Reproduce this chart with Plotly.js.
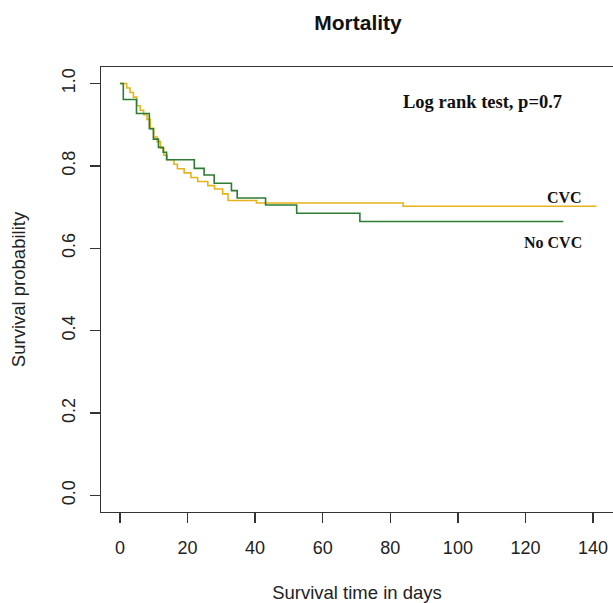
<!DOCTYPE html>
<html>
<head>
<meta charset="utf-8">
<script src="https://cdn.plot.ly/plotly-3.0.1.min.js"></script>
<style>html,body{margin:0;padding:0;background:#fff;}#chart{width:613px;height:603px;}</style>
</head>
<body>
<div id="chart"></div>
<script>
// Kaplan-Meier step data
const cvcTime = [0, 2, 3, 4, 5, 6, 7, 8, 9, 10, 11, 12, 13, 14, 16, 17, 19, 21, 23, 26, 28, 30.4, 32, 40.4, 83.8, 141];
const cvcSurv = [1.0, 0.989, 0.978, 0.967, 0.946, 0.935, 0.924, 0.913, 0.891, 0.870, 0.859, 0.843, 0.826, 0.815, 0.804, 0.793, 0.783, 0.772, 0.762, 0.752, 0.744, 0.732, 0.716, 0.710, 0.702, 0.702];
const noCvcTime = [0, 1, 4.9, 8.7, 9.9, 11.4, 12.8, 13.8, 22, 24.9, 27.9, 33, 34.7, 43.1, 52.3, 71, 131.2];
const noCvcSurv = [1.0, 0.961, 0.927, 0.890, 0.865, 0.845, 0.833, 0.815, 0.794, 0.778, 0.758, 0.740, 0.722, 0.705, 0.685, 0.665, 0.665];
const xTicks = [0, 20, 40, 60, 80, 100, 120, 140];
const yTicks = [0.0, 0.2, 0.4, 0.6, 0.8, 1.0];
const yTickText = ["0.0", "0.2", "0.4", "0.6", "0.8", "1.0"];
const groupLabels = ["CVC", "No CVC"];
const testLabel = "Log rank test, p=0.7";

const tickFont = {family: "Liberation Sans, Arial, sans-serif", size: 18, color: "#222"};
const titleFont = {family: "Liberation Sans, Arial, sans-serif", size: 18.5, color: "#222"};
const traces = [
  {x: cvcTime, y: cvcSurv, type: "scatter", mode: "lines", line: {shape: "hv", color: "#E8B31A", width: 1.6}, name: groupLabels[0]},
  {x: noCvcTime, y: noCvcSurv, type: "scatter", mode: "lines", line: {shape: "hv", color: "#2E7B34", width: 1.6}, name: groupLabels[1]}
];
const layout = {
  width: 613, height: 603,
  margin: {l: 101, r: 0, t: 67, b: 91},
  paper_bgcolor: "#fff", plot_bgcolor: "#fff",
  showlegend: false,
  title: {text: "Mortality", font: {family: "Liberation Sans, Arial, sans-serif", size: 21, color: "#111", weight: "bold"}, x: 0.5840, xref: "container", y: 0.963, yref: "container", xanchor: "center", yanchor: "middle"},
  xaxis: {
    range: [-5.6, 145.9], tickvals: xTicks, ticktext: xTicks.map(String),
    showgrid: false, zeroline: false, showline: true, mirror: true, linecolor: "#333", linewidth: 1.3,
    ticks: "outside", ticklen: 10, tickcolor: "#333", tickwidth: 1.3, tickfont: tickFont,
    ticklabelstandoff: 9,
    title: {text: "Survival time in days", font: titleFont, standoff: 30}
  },
  yaxis: {
    range: [-0.04, 1.04], tickvals: yTicks, ticktext: yTickText, tickangle: -90,
    showgrid: false, zeroline: false, showline: true, mirror: false, linecolor: "#333", linewidth: 1.3,
    ticks: "outside", ticklen: 10, tickcolor: "#333", tickwidth: 1.3, tickfont: tickFont,
    ticklabelstandoff: 8,
    title: {text: "Survival probability", font: titleFont, standoff: 28}
  },
  annotations: [
    {x: 107.4, y: 0.956, xref: "x", yref: "y", text: testLabel, showarrow: false, xanchor: "center", yanchor: "middle", font: {family: "Liberation Serif, Times New Roman, serif", size: 18.5, color: "#111", weight: "bold"}},
    {x: 137.3, y: 0.723, xref: "x", yref: "y", text: groupLabels[0], showarrow: false, xanchor: "right", yanchor: "middle", font: {family: "Liberation Serif, Times New Roman, serif", size: 16, color: "#111", weight: "bold"}},
    {x: 137.3, y: 0.614, xref: "x", yref: "y", text: groupLabels[1], showarrow: false, xanchor: "right", yanchor: "middle", font: {family: "Liberation Serif, Times New Roman, serif", size: 16, color: "#111", weight: "bold"}}
  ]
};
Plotly.newPlot("chart", traces, layout, {displayModeBar: false, staticPlot: true});
</script>
</body>
</html>
